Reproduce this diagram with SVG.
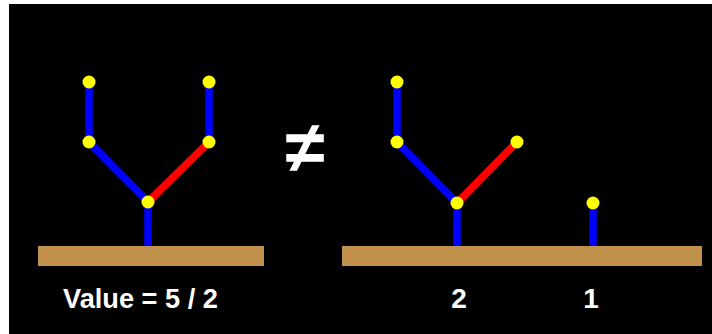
<svg xmlns="http://www.w3.org/2000/svg" width="712" height="334" viewBox="0 0 712 334">
<style>
.b{stroke:#0000ff;stroke-width:7.5;fill:none}
.r{stroke:#ff0000;stroke-width:7.5;fill:none}
.n{fill:#ffff00}
.g{fill:#c0914a}
.t{fill:#ffffff;font-family:"Liberation Sans",Arial,sans-serif;font-weight:bold}
</style>
<rect x="0" y="0" width="712" height="334" fill="#ffffff"/>
<rect x="9" y="4" width="703" height="330" fill="#000000"/>
<g id="ground-left"><rect class="g" x="38" y="246" width="226" height="20"/></g>
<g id="ground-right"><rect class="g" x="342" y="246" width="360" height="20"/></g>
<g id="connectors">
<line class="b" x1="89" y1="82" x2="89" y2="142"/>
<line class="b" x1="209" y1="82" x2="209" y2="142"/>
<line class="b" x1="89" y1="142" x2="148" y2="202"/>
<line class="r" x1="209" y1="142" x2="148" y2="202"/>
<line class="b" x1="148" y1="202" x2="148" y2="246"/>
<line class="b" x1="397" y1="82" x2="397" y2="142"/>
<line class="b" x1="397" y1="142" x2="457" y2="203"/>
<line class="r" x1="517" y1="142" x2="457" y2="203"/>
<line class="b" x1="457" y1="203" x2="457" y2="246"/>
<line class="b" x1="593" y1="203" x2="593" y2="246"/>
</g>
<g id="n1"><circle class="n" cx="89" cy="82" r="6.5"/></g>
<g id="n2"><circle class="n" cx="209" cy="82" r="6.5"/></g>
<g id="n3"><circle class="n" cx="89" cy="142" r="6.5"/></g>
<g id="n4"><circle class="n" cx="209" cy="142" r="6.5"/></g>
<g id="n5"><circle class="n" cx="148" cy="202" r="6.5"/></g>
<g id="n6"><circle class="n" cx="397" cy="82" r="6.5"/></g>
<g id="n7"><circle class="n" cx="397" cy="142" r="6.5"/></g>
<g id="n8"><circle class="n" cx="517" cy="142" r="6.5"/></g>
<g id="n9"><circle class="n" cx="457" cy="203" r="6.5"/></g>
<g id="n10"><circle class="n" cx="593" cy="203" r="6.5"/></g>
<g id="neq"><text class="t" x="305" y="172" font-size="72" text-anchor="middle">≠</text></g>
<g id="labels">
<text class="t" x="63" y="308" font-size="28" textLength="155" lengthAdjust="spacingAndGlyphs">Value = 5 / 2</text>
<text class="t" x="459" y="308" font-size="28" text-anchor="middle">2</text>
<text class="t" x="591" y="308" font-size="28" text-anchor="middle">1</text>
</g>
</svg>
